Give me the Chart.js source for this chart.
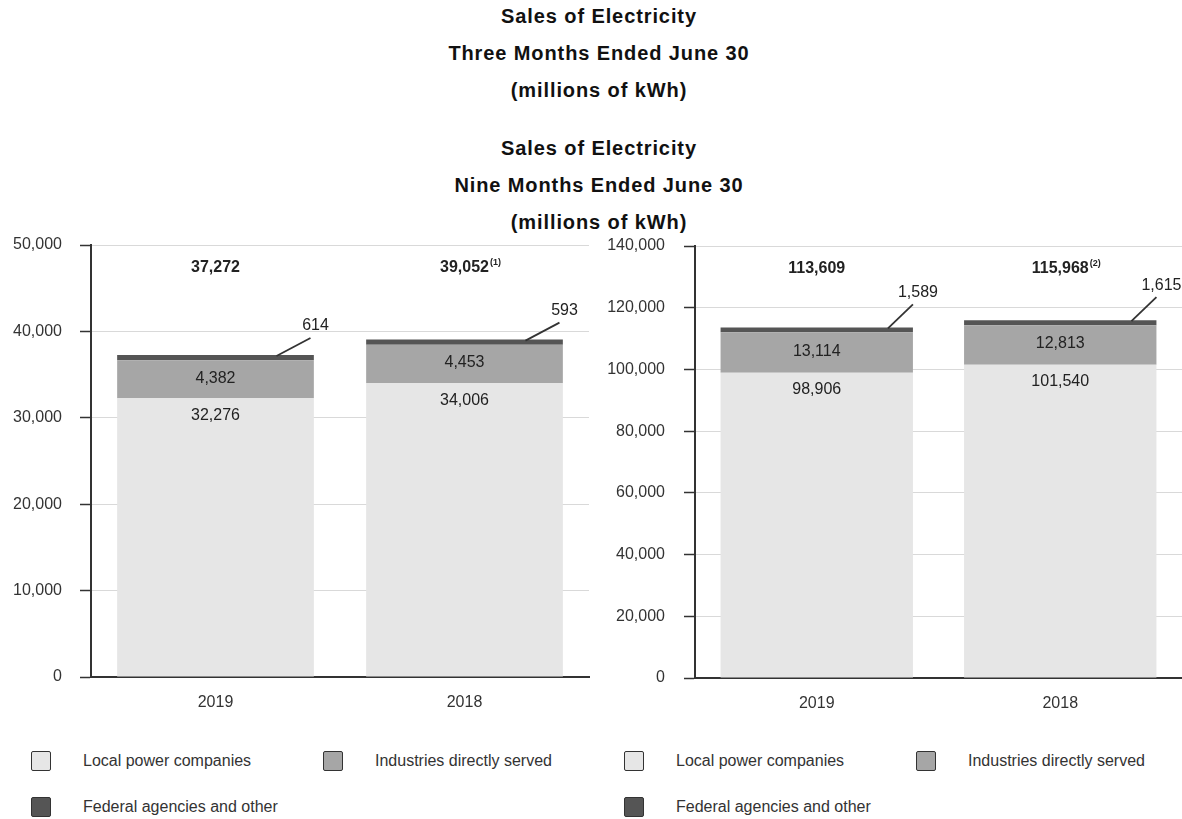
<!DOCTYPE html>
<html>
<head>
<meta charset="utf-8">
<script src="https://cdn.jsdelivr.net/npm/chart.js@4"></script>
<style>
    body { margin: 0; background: #fff; font-family: "Liberation Sans", Arial, sans-serif; color: #222; }
    .page { position: relative; width: 1182px; height: 819px; overflow: hidden; }
    .titulo { position: absolute; left: 8px; width: 1182px; text-align: center; font-weight: bold; font-size: 20px; line-height: 37px; letter-spacing: 0.9px; color: #111; }
    .grafico { position: absolute; top: 230px; height: 490px; }
    .legenda { position: absolute; display: grid; grid-template-columns: 292px 292px; grid-auto-rows: 46px; font-size: 16px; color: #333; }
    .legenda .item { display: flex; align-items: center; }
    .legenda .caixa { width: 18px; height: 18px; border: 1.5px solid #333; border-radius: 2px; margin-right: 32px; }
</style>
</head>
<body>
<div class="page">
    <div class="titulo" style="top:-2px">Sales of Electricity<br>Three Months Ended June 30<br>(millions of kWh)</div>
    <div class="titulo" style="top:130px">Sales of Electricity<br>Nine Months Ended June 30<br>(millions of kWh)</div>

    <div class="grafico" style="left:0; width:590px"><canvas id="threeMonthsChart"></canvas></div>
    <div class="grafico" style="left:590px; width:592px"><canvas id="nineMonthsChart"></canvas></div>

    <div class="legenda" id="legendThree" style="left:31px; top:738px"></div>
    <div class="legenda" id="legendNine" style="left:624px; top:738px"></div>
</div>

<script>
// =============== DADOS ===============
const years = ["2019", "2018"];
const seriesNames = ["Local power companies", "Industries directly served", "Federal agencies and other"];
const seriesColors = ["#e6e6e6", "#a6a6a6", "#555555"];

// três meses
const localThree = [32276, 34006];
const industriesThree = [4382, 4453];
const federalThree = [614, 593];
const footnotesThree = ["", "(1)"];
const yMaxThree = 50000;
const yStepThree = 10000;

// nove meses
const localNine = [98906, 101540];
const industriesNine = [13114, 12813];
const federalNine = [1589, 1615];
const footnotesNine = ["", "(2)"];
const yMaxNine = 140000;
const yStepNine = 20000;

const fmt = (v) => v.toLocaleString("en-US");
const FONT = '"Liberation Sans", Arial, sans-serif';

// =============== RÓTULOS DAS BARRAS ===============
const segmentLabels = {
    id: "segmentLabels",
    afterDatasetsDraw(chart, args, opts) {
        const ctx = chart.ctx;
        const ds = chart.data.datasets;
        ctx.save();
        ctx.textAlign = "center";
        ctx.textBaseline = "middle";
        ctx.fillStyle = "#222";
        ctx.font = "16px " + FONT;

        // local: logo abaixo do topo do segmento
        chart.getDatasetMeta(0).data.forEach((bar, i) => {
            ctx.fillText(fmt(ds[0].data[i]), bar.x, bar.y + 17);
        });
        // indústrias: no meio
        chart.getDatasetMeta(1).data.forEach((bar, i) => {
            ctx.fillText(fmt(ds[1].data[i]), bar.x, (bar.y + bar.base) / 2 - 1);
        });
        // federal: linha de chamada
        chart.getDatasetMeta(2).data.forEach((bar, i) => {
            const x0 = bar.x + bar.width * opts.leaderStart;
            const y0 = bar.y + 1;
            const x1 = x0 + opts.leaderDx;
            const y1 = y0 + opts.leaderDy;
            ctx.strokeStyle = "#333";
            ctx.lineWidth = 1.8;
            ctx.beginPath();
            ctx.moveTo(x0, y0);
            ctx.lineTo(x1, y1);
            ctx.stroke();
            ctx.fillText(fmt(ds[2].data[i]), x1 + 5, y1 - 12);
        });

        // totais em negrito no topo
        const top = chart.chartArea.top + 23;
        chart.getDatasetMeta(0).data.forEach((bar, i) => {
            const total = ds[0].data[i] + ds[1].data[i] + ds[2].data[i];
            const txt = fmt(total);
            ctx.font = "bold 16px " + FONT;
            ctx.textAlign = "center";
            ctx.fillText(txt, bar.x, top);
            const note = opts.footnotes[i];
            if (note) {
                const w = ctx.measureText(txt).width;
                ctx.font = "bold 9px " + FONT;
                ctx.textAlign = "left";
                ctx.fillText(note, bar.x + w / 2 + 1, top - 5);
            }
        });
        ctx.restore();
    },
};

function buildChart(canvasId, local, industries, federal, cfg) {
    const el = document.getElementById(canvasId);
    if (!el) return;
    const values = [local, industries, federal];
    new Chart(el.getContext("2d"), {
        type: "bar",
        data: {
            labels: years,
            datasets: seriesNames.map((name, k) => ({
                label: name,
                data: values[k],
                backgroundColor: seriesColors[k],
                borderWidth: 0,
                barPercentage: 0.79,
                categoryPercentage: 1,
            })),
        },
        options: {
            responsive: true,
            maintainAspectRatio: false,
            animation: false,
            layout: { padding: { top: cfg.padTop, right: cfg.padRight, left: 0, bottom: 0 } },
            plugins: {
                legend: { display: false },
                tooltip: { enabled: false },
                segmentLabels: {
                    footnotes: cfg.footnotes,
                    leaderStart: cfg.leaderStart,
                    leaderDx: cfg.leaderDx,
                    leaderDy: cfg.leaderDy,
                },
            },
            scales: {
                x: {
                    stacked: true,
                    grid: { display: false, drawTicks: false },
                    border: { color: "#333", width: 2 },
                    ticks: { color: "#333", font: { size: 16, family: FONT }, padding: 16 },
                    afterFit: (scale) => { scale.height = cfg.xHeight; },
                },
                y: {
                    stacked: true,
                    min: 0,
                    max: cfg.yMax,
                    grid: { color: "#d9d9d9", lineWidth: 1, tickColor: "#333", tickLength: 11, tickWidth: 1.5 },
                    border: { color: "#333", width: 2 },
                    ticks: {
                        stepSize: cfg.yStep,
                        color: "#333",
                        font: { size: 16, family: FONT },
                        padding: cfg.tickPad,
                        callback: (v) => fmt(v),
                    },
                    afterFit: (scale) => {
                        scale.width = cfg.yWidth;
                        // o padding dos rótulos não deve empurrar a área do gráfico
                        scale.paddingTop = 0;
                        scale.paddingBottom = 0;
                    },
                },
            },
        },
        plugins: [segmentLabels],
    });
}

function buildLegend(id) {
    const box = document.getElementById(id);
    seriesNames.forEach((name, k) => {
        const item = document.createElement("div");
        item.className = "item";
        item.innerHTML = `<span class="caixa" style="background:${seriesColors[k]}"></span><span>${name}</span>`;
        box.appendChild(item);
    });
}

document.addEventListener("DOMContentLoaded", function () {
    if (typeof Chart === "undefined") {
        console.error("Chart.js not loaded");
        return;
    }
    buildChart("threeMonthsChart", localThree, industriesThree, federalThree, {
        yMax: yMaxThree, yStep: yStepThree, footnotes: footnotesThree,
        padTop: 15, padRight: 1, xHeight: 43, yWidth: 91, tickPad: 18,
        leaderStart: 0.31, leaderDx: 34, leaderDy: -18,
    });
    buildChart("nineMonthsChart", localNine, industriesNine, federalNine, {
        yMax: yMaxNine, yStep: yStepNine, footnotes: footnotesNine,
        padTop: 16, padRight: 0, xHeight: 42, yWidth: 105, tickPad: 19,
        leaderStart: 0.37, leaderDx: 25, leaderDy: -24,
    });
    buildLegend("legendThree");
    buildLegend("legendNine");
});
</script>
</body>
</html>
